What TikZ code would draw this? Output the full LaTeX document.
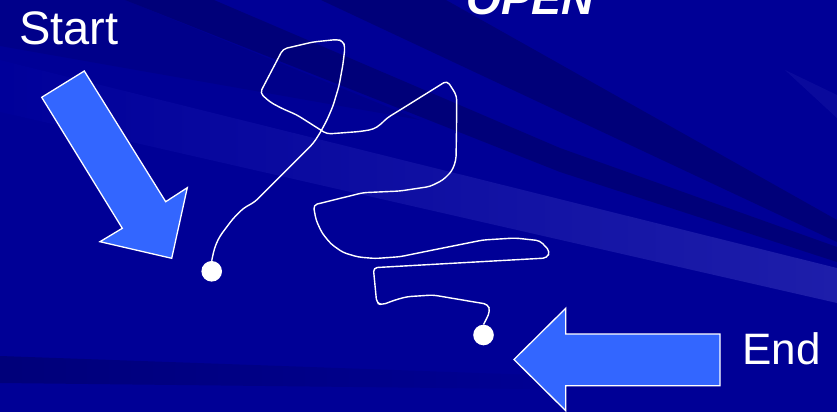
\documentclass[tikz,border=0pt]{standalone}
\usepackage{fontspec}
\setmainfont{Liberation Sans}
\definecolor{bgblue}{RGB}{0,0,150}
\definecolor{darkray}{RGB}{0,0,112}
\definecolor{lightray}{RGB}{30,30,170}
\definecolor{leftray}{RGB}{0,0,154}
\definecolor{arrowblue}{RGB}{51,102,255}
\begin{document}
\begin{tikzpicture}[x=1pt,y=-1pt,
  bigarrow/.style={fill=arrowblue,draw=white,line width=1.3pt,line join=miter},
  enddot/.style={circle,fill=white,inner sep=0pt,minimum size=20.6pt},
  txt/.style={text=white,inner sep=0pt,anchor=base west},
  trail/.style={draw=white,line width=1.4pt,line join=round,rounded corners=4pt}]
\useasboundingbox (0,0) rectangle (837,412);
% background
\fill[bgblue] (0,0) rectangle (837,412);
\fill[darkray,opacity=.3] (0,0) -- (125,0) -- (420,120) -- (0,46) -- cycle;
\fill[darkray,opacity=.75] (321,0) -- (446,0) -- (837,220) -- (837,242) -- cycle;
\fill[darkray,opacity=.75] (125,0) -- (214,0) -- (560,148) -- (837,247) -- (837,262) -- (560,172) -- cycle;
\shade[left color=leftray,right color=lightray] (0,60) -- (837,268) -- (837,303) -- (0,112) -- cycle;
\shade[left color=darkray!75!bgblue,right color=bgblue] (0,356) -- (620,378) -- (620,390) -- (0,383) -- cycle;
\fill[lightray,opacity=.35] (785,70) -- (837,95) -- (837,118) -- cycle;
% arrows
\draw[bigarrow] (41.7,97.3) -- (84.3,71) -- (165.7,201.7) -- (187.3,187.7) -- (171.7,258.3) -- (100,241.7) -- (122.3,228.3) -- cycle;
\draw[bigarrow] (514,359.5) -- (565.7,308.3) -- (565.7,334) -- (720,334) -- (720,385.7) -- (565.7,385.7) -- (565.7,410.7) -- cycle;
% dots
\node[enddot] (sdot) at (211.7,271.3) {};
\node[enddot] (edot) at (483.5,335) {};
% trail
\draw[trail] (sdot.north) -- (213.5,252) -- (216,244) -- (220,236) -- (226.7,227) -- (233.3,218.3)
 -- (243.3,208.3) -- (255,201.7) -- (313.3,143.3) -- (320,133) -- (327,120) -- (333,106) -- (339,86)
 -- (343,64) -- (345,47) -- (343,41) -- (337,39.5) -- (313,42) -- (283,49) -- (260,93) -- (270,102)
 -- (281,108) -- (297,115) -- (327,134) -- (360,131.5) -- (373.3,129.3) -- (380,125) -- (387,118)
 -- (400,110) -- (447,80.7) -- (452,88) -- (456.7,96) -- (456.5,130) -- (456,160) -- (452,171)
 -- (443,180) -- (430,186.5) -- (400,191) -- (363,192.7) -- (313.3,205) -- (316,220) -- (322,233)
 -- (331,244) -- (343,252.5) -- (358,257) -- (375,258.5) -- (400,256.7) -- (433,250) -- (483,240)
 -- (515,238) -- (540,240.7) -- (550,251.5) -- (547,258) -- (373.3,267.7) -- (376.7,303)
 -- (381.7,305) -- (395,300) -- (407,296.7) -- (433,295) -- (488,304.3) -- (490,311) -- (486,320)
 -- (edot.north);
% texts
\node[txt,font=\fontsize{47}{47}\selectfont] (start) at (19,45) {Start};
\node[txt,font=\fontsize{44}{44}\selectfont] (end) at (742,364) {End};
\node[txt,font=\bfseries\itshape\fontsize{45}{45}\selectfont] (open) at (466,15) {OPEN};
\end{tikzpicture}
\end{document}
